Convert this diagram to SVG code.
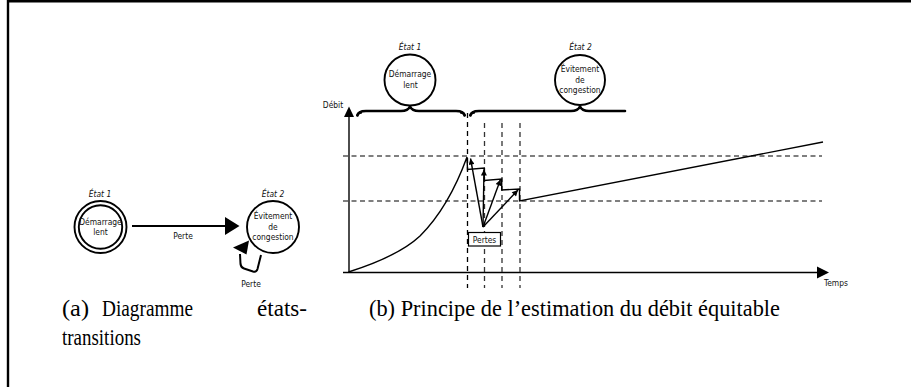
<svg xmlns="http://www.w3.org/2000/svg" width="911" height="387" viewBox="0 0 911 387">
  <style>
    .lbl { font-family: "DejaVu Sans Condensed", "DejaVu Sans", sans-serif; font-size: 8.4px; fill: #111; text-anchor: middle; }
    .st { font-style: italic; }
    .cap { font-family: "Liberation Serif", serif; font-size: 23px; fill: #000; }
    .node { fill: #fff; stroke: #000; stroke-width: 1.9; }
    .edge { fill: none; stroke: #000; stroke-width: 2; }
    .thin { fill: none; stroke: #000; stroke-width: 1.4; }
    .grid { fill: none; stroke: #555; stroke-width: 1.3; stroke-dasharray: 5 3.5; }
    .vdash { fill: none; stroke: #333; stroke-width: 1.3; stroke-dasharray: 5 4; }
    .brace { fill: none; stroke: #000; stroke-width: 2.6; stroke-linecap: round; stroke-linejoin: round; }
  </style>
  <defs>
    <marker id="tip" viewBox="0 0 10 10" refX="10" refY="5" markerUnits="userSpaceOnUse" markerWidth="7" markerHeight="6" orient="auto">
      <path d="M0,0 L10,5 L0,10 Z" fill="#000"/>
    </marker>
  </defs>

  <rect width="911" height="387" fill="#fff"/>
  <!-- frame -->
  <path d="M8,387 L8,1.3 L911,1.3" fill="none" stroke="#000" stroke-width="2.4"/>

  <!-- (a) state diagram -->
  <g id="state-a1">
    <circle class="node" cx="100.5" cy="227" r="26"/>
    <circle class="node" cx="100.5" cy="227" r="21.7"/>
    <text class="lbl st" x="100" y="197">État 1</text>
    <text class="lbl" x="100.5" y="225">Démarrage</text>
    <text class="lbl" x="100.5" y="234.5">lent</text>
  </g>
  <g id="state-a2">
    <circle class="node" cx="273" cy="227" r="26"/>
    <text class="lbl st" x="273" y="197">État 2</text>
    <text class="lbl" x="273" y="219">Évitement</text>
    <text class="lbl" x="273" y="229.5">de</text>
    <text class="lbl" x="273" y="239.5">congestion</text>
  </g>
  <g id="edges-a">
    <line class="edge" x1="132" y1="226" x2="226" y2="226"/>
    <path d="M225,217 L239.5,226 L225,235 Z" fill="#000"/>
    <text class="lbl" x="183" y="239">Perte</text>
    <path class="edge" d="M261,255 L257.5,269 Q256.5,272.5 253,271.5 L244,268.5 Q241,267.5 240.5,264 L240,254"/>
    <path d="M233,247.5 L249,240.5 L246.5,254.5 Z" fill="#000"/>
    <text class="lbl" x="251" y="287">Perte</text>
  </g>

  <!-- (b) rate over time -->
  <g id="state-b1">
    <circle class="node" cx="410" cy="80" r="25.5"/>
    <text class="lbl st" x="410" y="50">État 1</text>
    <text class="lbl" x="410" y="77">Démarrage</text>
    <text class="lbl" x="410.5" y="87.5">lent</text>
  </g>
  <g id="state-b2">
    <circle class="node" cx="580" cy="80" r="25"/>
    <text class="lbl st" x="580.5" y="50">État 2</text>
    <text class="lbl" x="580" y="72">Évitement</text>
    <text class="lbl" x="580" y="82.5">de</text>
    <text class="lbl" x="580" y="92.5">congestion</text>
  </g>
  <g id="braces">
    <path class="brace" d="M357.5,115.5 Q358,111 366,111 L401,111 Q408,111 410,106.5 Q412,111 419,111 L456,111 Q464,111 464.5,115.5"/>
    <path class="brace" d="M470.5,115.5 Q471,111 479,111 L571,111 Q578,111 580,106.5 Q582,111 589,111 L625,111"/>
    <path d="M356,116 Q356,112 362,111 L362,113.5 Q358,114 357.5,116.5 Z M466,116 Q466,112 460,111 L460,113.5 Q464,114 464.5,116.5 Z M469,116 Q469,112 475,111 L475,113.5 Q471,114 470.5,116.5 Z" fill="#000"/>
  </g>

  <g id="axes">
    <line class="thin" x1="349" y1="116" x2="349" y2="272"/>
    <path d="M344,117 L349,106.5 L354,117 Z" fill="#000"/>
    <line class="thin" x1="343" y1="272.5" x2="818" y2="272.5"/>
    <path d="M817,266.5 L829,272.5 L817,278.5 Z" fill="#000"/>
    <text class="lbl" x="333" y="108">Débit</text>
    <text class="lbl" x="836" y="286">Temps</text>
  </g>

  <g id="guides">
    <line class="grid" x1="343" y1="156" x2="822" y2="156"/>
    <line class="grid" x1="343" y1="201" x2="822" y2="201"/>
    <line class="vdash" x1="467.5" y1="113" x2="467.5" y2="288" style="stroke:#000"/>
    <line class="vdash" x1="484.5" y1="123" x2="484.5" y2="288"/>
    <line class="vdash" x1="502" y1="123" x2="502" y2="288"/>
    <line class="vdash" x1="520" y1="123" x2="520" y2="288"/>
  </g>

  <g id="rate">
    <path class="thin" d="M348.5,272 C380,262 405,250 420,236 C438,218 455,190 467,157 L467.5,169.5 L484.3,168 L484.3,180.5 L501.7,179 L501.7,190 L519.5,189 L519.5,201 L823,142"/>
  </g>

  <g id="losses">
    <line class="thin" x1="483" y1="227" x2="470.5" y2="158.5" marker-end="url(#tip)"/>
    <line class="thin" x1="483" y1="227" x2="484" y2="169.5" marker-end="url(#tip)"/>
    <line class="thin" x1="483" y1="227" x2="500.5" y2="179.5" marker-end="url(#tip)"/>
    <line class="thin" x1="483" y1="227" x2="518" y2="190" marker-end="url(#tip)"/>
    <rect x="468.5" y="232.5" width="32" height="13.5" fill="#fff" stroke="#000" stroke-width="1.2"/>
    <text class="lbl" x="484.5" y="242.5">Pertes</text>
  </g>

  <!-- captions -->
  <g id="captions">
    <text class="cap" x="62" y="316" textLength="27" lengthAdjust="spacingAndGlyphs">(a)</text>
    <text class="cap" x="102" y="316" textLength="91" lengthAdjust="spacingAndGlyphs">Diagramme</text>
    <text class="cap" x="257" y="316" textLength="50" lengthAdjust="spacingAndGlyphs">états-</text>
    <text class="cap" x="62" y="345" textLength="79" lengthAdjust="spacingAndGlyphs">transitions</text>
    <text class="cap" x="369" y="316" textLength="411" lengthAdjust="spacingAndGlyphs">(b) Principe de l’estimation du débit équitable</text>
  </g>
</svg>
